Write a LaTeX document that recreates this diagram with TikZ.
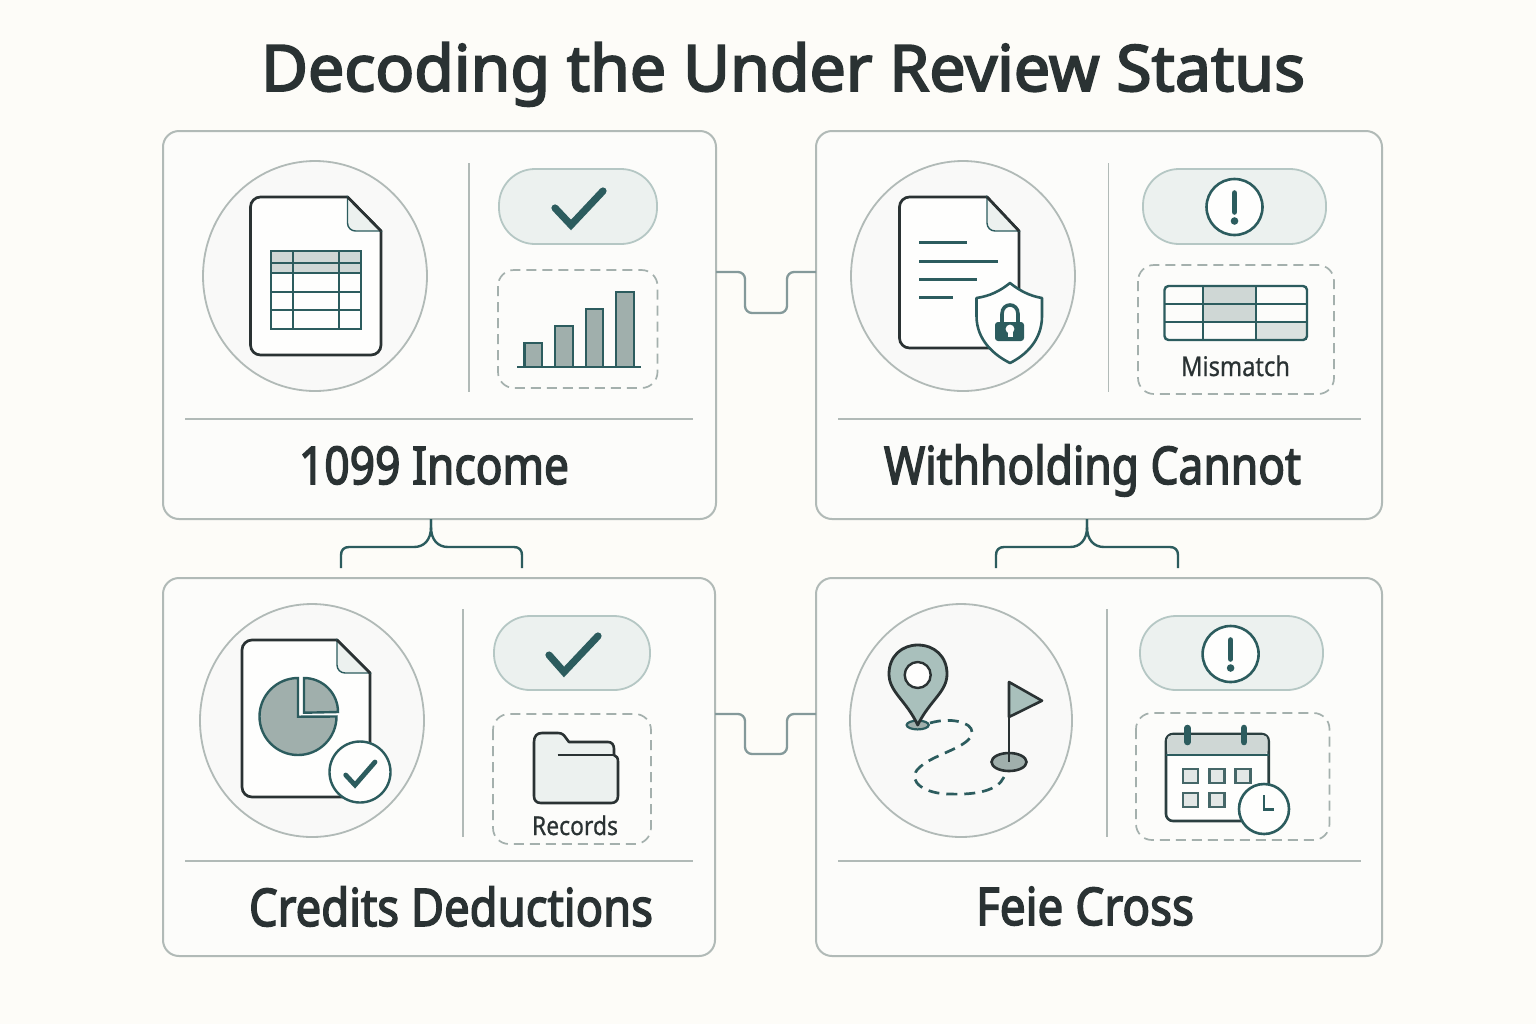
\documentclass[tikz,border=0pt]{standalone}
\usepackage{fontspec}
\usepackage{graphicx}
\setmainfont{Noto Sans}
\newfontfamily\headfont[FakeBold=3]{Noto Sans}
\newfontfamily\smallfont[FakeBold=.7]{Noto Sans}
\definecolor{bgc}{HTML}{FDFCF8}
\definecolor{cardc}{HTML}{FCFCFA}
\definecolor{edge}{HTML}{B1BAB7}
\definecolor{teal}{HTML}{2C5C5E}
\definecolor{ink}{HTML}{2A3233}
\definecolor{linkc}{HTML}{84999A}
\definecolor{ringc}{HTML}{F9F9F8}
\definecolor{pillc}{HTML}{ECF1EF}
\definecolor{pilledge}{HTML}{B5C7C4}
\definecolor{dashc}{HTML}{A4B0AD}
\definecolor{barc}{HTML}{A0AFAC}
\definecolor{headc}{HTML}{CFD7D5}
\definecolor{pinc}{HTML}{A9C0BC}
\definecolor{paper}{HTML}{FEFEFD}
\tikzset{
 cardbox/.style={draw=edge,line width=1pt,fill=cardc,rounded corners=8pt,inner sep=0pt,outer sep=0pt},
 rule/.style={draw=edge,line width=.8pt},
 ring/.style={draw=edge,line width=.9pt,fill=ringc},
 pill/.style={draw=pilledge,line width=.9pt,fill=pillc,rounded corners=18pt},
 dashbox/.style={draw=dashc,line width=.85pt,rounded corners=8pt,dash pattern=on 5pt off 3pt},
 docline/.style={draw=ink,line width=1.35pt,fill=paper},
 foldp/.style={draw=teal,line width=.7pt,fill=pillc},
 tealln/.style={draw=teal,line width=1.2pt},
 tealbar/.style={draw=teal,line width=1.2pt,fill=barc},
 checkmk/.style={draw=teal,line width=3.6pt,line cap=round,line join=miter},
 sidelink/.style={draw=linkc,line width=1.15pt,rounded corners=3.5pt},
 bracelink/.style={draw=teal,line width=1.2pt},
 titletext/.style={inner sep=0pt,text=ink,anchor=base},
 labeltext/.style={inner sep=0pt,text=ink,anchor=base},
 smalltext/.style={inner sep=0pt,text=ink,anchor=base},
}
\newcommand\docshape[6]{%
 \draw[docline] (#5,#2) -- ({#1+10},#2) arc[start angle=90,end angle=180,radius=5pt]
  -- (#1,{#4-10}) arc[start angle=180,end angle=270,radius=5pt]
  -- ({#3-10},#4) arc[start angle=270,end angle=360,radius=5pt] -- (#3,#6) -- cycle;
 \draw[foldp] (#5,#2) -- (#5,{#6-8}) arc[start angle=180,end angle=270,radius=4pt] -- (#3,#6) -- cycle;
 \draw[docline,fill=none] (#5,#2) -- (#3,#6);}
\newcommand\alertmark[3]{%
 \draw[tealln,line width=1.3pt,fill=paper] (#1,#2) circle[radius=14pt];
 \draw[draw=teal,line width=2.8pt,line cap=round] (#1,{#2-14}) -- (#1,{#2+5});
 \fill[teal] (#1,{#2+14}) circle[radius=1.9pt];}
\newcommand\fittext[2]{\resizebox{#1}{\height}{#2}}
\begin{document}
\begin{tikzpicture}[x=.5pt,y=-.5pt]
\useasboundingbox (0,0) rectangle (1536,1024);
\fill[bgc] (0,0) rectangle (1536,1024);
\node[titletext] (title) at (783,91) {\fittext{522pt}{\fontsize{32}{36}\headfont Decoding the Under Review Status}};
% cards
\node[cardbox,minimum width=276.5pt,minimum height=194pt] (card1) at (439.5,325) {};
\node[cardbox,minimum width=283pt,minimum height=194pt] (card2) at (1099,325) {};
\node[cardbox,minimum width=276pt,minimum height=189pt] (card3) at (439,767) {};
\node[cardbox,minimum width=283pt,minimum height=189pt] (card4) at (1099,767) {};
% side connectors
\draw[sidelink] ([yshift=26.5pt]card1.east) -- ++(29,0) -- ++(0,41) -- ++(42,0) -- ++(0,-41) -- ([yshift=26.5pt]card2.west);
\draw[sidelink] ([yshift=26.5pt]card3.east) -- ++(30,0) -- ++(0,40) -- ++(42,0) -- ++(0,-40) -- ([yshift=26.5pt]card4.west);
% braces
\coordinate (b1l) at (341,568); \coordinate (b1r) at (522,568);
\coordinate (b2l) at (996,568); \coordinate (b2r) at (1178,568);
\draw[bracelink] ([xshift=-4.25pt]card1.south) -- (431,527) .. controls (431,540) and (424,547) .. (414,547) -- (349,547) .. controls (344,547) and (341,550) .. (341,555) -- (b1l);
\draw[bracelink] ([xshift=-4.25pt]card1.south) -- (431,527) .. controls (431,540) and (438,547) .. (448,547) -- (514,547) .. controls (519,547) and (522,550) .. (522,555) -- (b1r);
\draw[bracelink] ([xshift=-6pt]card2.south) -- (1087,527) .. controls (1087,540) and (1080,547) .. (1070,547) -- (1004,547) .. controls (999,547) and (996,550) .. (996,555) -- (b2l);
\draw[bracelink] ([xshift=-6pt]card2.south) -- (1087,527) .. controls (1087,540) and (1094,547) .. (1104,547) -- (1170,547) .. controls (1175,547) and (1178,550) .. (1178,555) -- (b2r);
% dividers
\draw[rule] (469,163) -- (469,392); \draw[rule] (185,419) -- (693,419);
\draw[rule] (1108.5,163) -- (1108.5,392); \draw[rule] (838,419) -- (1361,419);
\draw[rule] (463,609) -- (463,837); \draw[rule] (185,861) -- (693,861);
\draw[rule] (1107,609) -- (1107,837); \draw[rule] (838,861) -- (1361,861);
% rings
\draw[ring] (315,276) ellipse[x radius=56pt,y radius=57.5pt];
\draw[ring] (963,276) ellipse[x radius=56pt,y radius=57.5pt];
\draw[ring] (312,720.5) ellipse[x radius=56pt,y radius=58.25pt];
\draw[ring] (961,720.5) ellipse[x radius=55.5pt,y radius=58.25pt];
% card 1 document
\docshape{250.5}{197}{381}{355}{347.5}{231}
\fill[headc] (271,251) rectangle (361,273);
\draw[tealln] (271,251) rectangle (361,329);
\foreach \yy in {263,273,292,310} \draw[tealln] (271,\yy) -- (361,\yy);
\foreach \xx in {293,339} \draw[tealln] (\xx,251) -- (\xx,329);
% card 1 right
\draw[pill] (499,169) rectangle (657,244);
\draw[checkmk] (555,208) -- (571,225) -- (603,191);
\draw[dashbox] (498,270) rectangle (657.5,388);
\draw[tealbar] (524.5,343) rectangle (542,367);
\draw[tealbar] (555,326) rectangle (573,367);
\draw[tealbar] (586,309) rectangle (603,367);
\draw[tealbar] (616,292) rectangle (634,367);
\draw[tealln] (517,367) -- (641,367);
% card 2 document
\docshape{899.5}{197}{1019}{348}{987}{231}
\draw[tealln,line width=1.5pt] (919,242) -- (967,242);
\draw[tealln,line width=1.5pt] (919,261) -- (997.5,261);
\draw[tealln,line width=1.5pt] (919,279) -- (977,279);
\draw[tealln,line width=1.5pt] (919,297) -- (953,297);
\draw[tealln,line width=1.3pt,fill=paper,line join=round] (1010,283) .. controls (1020,291) and (1030,296) .. (1042,298) -- (1042,316) .. controls (1042,340) and (1026,355) .. (1010,363) .. controls (994,355) and (976.5,340) .. (976.5,316) -- (976.5,298) .. controls (990,296) and (1000,291) .. (1010,283) -- cycle;
\draw[draw=teal,line width=1.8pt] (1002,323) -- (1002,314) .. controls (1002,302) and (1018,302) .. (1018,314) -- (1018,323);
\fill[teal,rounded corners=1.5pt] (995,322) rectangle (1024,341);
\fill[paper] (1010,329) circle[radius=2.2pt];
\fill[paper] (1007.5,331) rectangle (1012.5,336.5);
% card 2 right
\draw[pill] (1143,169) rectangle (1326,244);
\alertmark{1234.5}{207}{}
\draw[dashbox] (1138,265) rectangle (1334,394);
\fill[headc] (1203,286) rectangle (1256,322);
\fill[headc!75!white] (1256,322) rectangle (1307,340);
\draw[tealln,rounded corners=2pt] (1164.5,286) rectangle (1307,340);
\draw[tealln] (1164.5,304) -- (1307,304);
\draw[tealln] (1164.5,322) -- (1307,322);
\draw[tealln] (1203,286) -- (1203,340);
\draw[tealln] (1256,286) -- (1256,340);
\node[smalltext] (mismatch) at (1235.5,376) {\fittext{54.5pt}{\fontsize{13.5}{16}\smallfont Mismatch}};
% card 3 document
\docshape{242}{640}{370}{797}{337}{673}
\draw[tealbar] (298,678) arc[start angle=90,end angle=360,radius=19.25pt] -- (298,716.7) -- cycle;
\draw[tealbar] (304,678) arc[start angle=90,end angle=0,radius=17pt] -- (304,712.7) -- cycle;
\draw[tealln,fill=paper] (360,772) circle[radius=15.25pt];
\draw[draw=teal,line width=2.4pt,line cap=round] (345.7,775) -- (355,785) -- (375,762);
% card 3 right
\draw[pill] (494,616) rectangle (650,690);
\draw[checkmk] (549,655) -- (564,672) -- (598,636);
\draw[dashbox] (493,714) rectangle (651,844);
\draw[draw=ink,line width=1.3pt,fill=pillc,line join=round] (534,742) .. controls (534,736) and (537,733) .. (542,733) -- (558,733) .. controls (562,733) and (564,735) .. (566,738) -- (569,742) -- (608,742) .. controls (612,742) and (614,745) .. (614,749) -- (614,755) .. controls (617,756) and (618,758) .. (618,762) -- (618,796) .. controls (618,801) and (615,803) .. (611,803) -- (541,803) .. controls (536,803) and (534,800) .. (534,796) -- cycle;
\draw[draw=ink,line width=1.1pt] (557.5,755) -- (614,755);
\node[smalltext] (records) at (575,835) {\fittext{43pt}{\fontsize{13}{15}\smallfont Records}};
% card 4 scene
\draw[draw=teal,line width=1.1pt,fill=barc] (917.7,725) ellipse[x radius=5.5pt,y radius=2.2pt];
\draw[draw=ink,line width=1.4pt,fill=pinc,line join=round] (917.7,725) .. controls (906,700) and (889,692) .. (889,674) .. controls (889,656) and (902,645) .. (917.7,645) .. controls (934,645) and (947,656) .. (947,674) .. controls (947,692) and (930,700) .. (917.7,725) -- cycle;
\draw[tealln,fill=paper,draw=ink] (917.7,675) ellipse[x radius=6.5pt,y radius=6.5pt];
\draw[draw=teal,line width=1.35pt,dash pattern=on 5.5pt off 3.5pt] (930,723) .. controls (950,717) and (972,722) .. (972,732) .. controls (972,748) and (930,754) .. (917,770) .. controls (908,782) and (925,794) .. (950,794) .. controls (978,795) and (998,790) .. (1004,777);
\draw[draw=ink,line width=1.3pt,fill=barc] (1009,762) ellipse[x radius=8.75pt,y radius=4.5pt];
\draw[draw=ink,line width=1.3pt,fill=pinc,line join=round] (1009,682) -- (1042,700.7) -- (1009,717) -- cycle;
\draw[draw=ink,line width=1.3pt] (1009,682) -- (1009,762);
% card 4 right
\draw[pill] (1140,616) rectangle (1323,690);
\alertmark{1230.6}{654}{}
\draw[dashbox] (1136,713) rectangle (1329.5,840);
\draw[draw=ink!70!teal,line width=1.3pt,fill=paper,rounded corners=3.5pt] (1166,734) rectangle (1268.7,821);
\fill[headc,rounded corners=2.5pt] (1167,735) rectangle (1267.7,755);
\draw[tealln] (1166,755) -- (1268.7,755);
\draw[draw=teal,line width=3.3pt,line cap=round] (1187.4,728) -- (1187.4,742);
\draw[draw=teal,line width=3.3pt,line cap=round] (1244,728) -- (1244,742);
\foreach \xx in {1183,1209.5,1235.5} \draw[draw=teal!70!gray,line width=1.1pt,fill=headc!60!white] (\xx,769) rectangle ++(15,14);
\foreach \xx in {1183,1209.5} \draw[draw=teal!70!gray,line width=1.1pt,fill=headc!60!white] (\xx,793) rectangle ++(15,14);
\draw[tealln,line width=1.3pt,fill=paper] (1264,809) circle[radius=12.5pt];
\draw[draw=teal,line width=1.3pt] (1264,795) -- (1264,809.5) -- (1274,809.5);
% labels
\node[labeltext] (lab1) at (434,484) {\fittext{135pt}{\fontsize{26}{30}\headfont 1099 Income}};
\node[labeltext] (lab2) at (1092.5,484) {\fittext{208.5pt}{\fontsize{26}{30}\headfont Withholding Cannot}};
\node[labeltext] (lab3) at (451,926) {\fittext{202pt}{\fontsize{26}{30}\headfont Credits Deductions}};
\node[labeltext] (lab4) at (1085,925) {\fittext{109pt}{\fontsize{26}{30}\headfont Feie Cross}};
\end{tikzpicture}
\end{document}
